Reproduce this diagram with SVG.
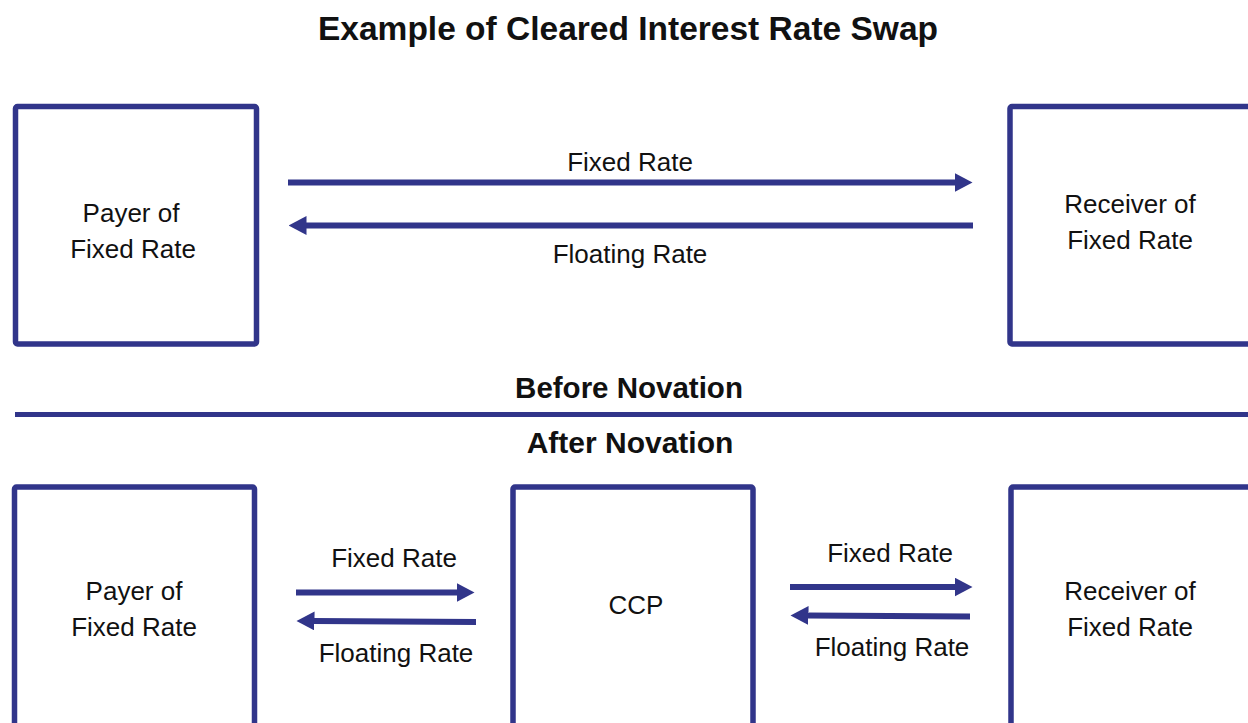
<svg xmlns="http://www.w3.org/2000/svg" width="1248" height="723" viewBox="0 0 1248 723">
<style>
.box{fill:#fff;stroke:#31358A;stroke-width:5.5}
.t{font-family:"Liberation Sans",Arial,sans-serif;font-size:26px;fill:#111;text-anchor:middle}
.h{font-family:"Liberation Sans",Arial,sans-serif;font-weight:bold;fill:#111;text-anchor:middle}
.c{stroke:#31358A;stroke-width:6;fill:none}
</style>
<defs>
<marker id="ah" markerUnits="userSpaceOnUse" markerWidth="18" markerHeight="19" viewBox="0 0 18 19" refX="0.5" refY="9.5" orient="auto">
<path d="M0,0 L18,9.5 L0,19 Z" fill="#31358A"/>
</marker>
</defs>
<rect width="1248" height="723" fill="#fff"/>
<text class="h" x="628" y="40" font-size="33.5">Example of Cleared Interest Rate Swap</text>
<g id="top-payer">
<rect class="box" x="15.5" y="106.5" width="241" height="237.5" rx="2"/>
<text class="t" x="131" y="222">Payer of</text>
<text class="t" x="133" y="258">Fixed Rate</text>
</g>
<g id="top-receiver">
<rect class="box" x="1010" y="106.5" width="241" height="237.5" rx="2"/>
<text class="t" x="1130" y="213">Receiver of</text>
<text class="t" x="1130" y="249">Fixed Rate</text>
</g>
<g id="divider">
<text class="h" x="629" y="398" font-size="29.5">Before Novation</text>
<line x1="15" y1="414.5" x2="1248" y2="414.5" stroke="#31358A" stroke-width="5"/>
<text class="h" x="630" y="453" font-size="30">After Novation</text>
</g>
<g id="bottom-payer">
<rect class="box" x="14.5" y="487" width="240" height="245" rx="2"/>
<text class="t" x="134" y="600">Payer of</text>
<text class="t" x="134" y="636">Fixed Rate</text>
</g>
<g id="ccp">
<rect class="box" x="513" y="487" width="240" height="245" rx="2"/>
<text class="t" x="636" y="614">CCP</text>
</g>
<g id="bottom-receiver">
<rect class="box" x="1011" y="487" width="240" height="245" rx="2"/>
<text class="t" x="1130" y="600">Receiver of</text>
<text class="t" x="1130" y="636">Fixed Rate</text>
</g>
<g id="connectors">
<line class="c" x1="288" y1="182.5" x2="955" y2="182.5" marker-end="url(#ah)"/>
<text class="t" x="630" y="171">Fixed Rate</text>
<line class="c" x1="973" y1="225.5" x2="306" y2="225.5" marker-end="url(#ah)"/>
<text class="t" x="630" y="263">Floating Rate</text>
<line class="c" x1="296" y1="592.5" x2="457" y2="592.5" marker-end="url(#ah)"/>
<text class="t" x="394" y="567">Fixed Rate</text>
<line class="c" x1="476" y1="622" x2="314" y2="621" marker-end="url(#ah)"/>
<text class="t" x="396" y="662">Floating Rate</text>
<line class="c" x1="790" y1="587" x2="955" y2="587" marker-end="url(#ah)"/>
<text class="t" x="890" y="562">Fixed Rate</text>
<line class="c" x1="970" y1="616.5" x2="808" y2="615.5" marker-end="url(#ah)"/>
<text class="t" x="892" y="656">Floating Rate</text>
</g>
</svg>
